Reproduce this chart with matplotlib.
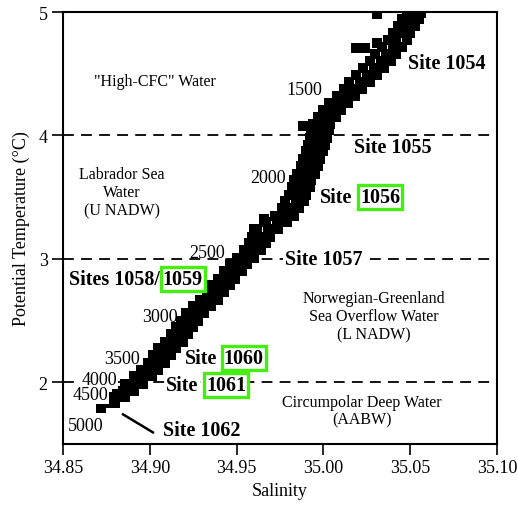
import matplotlib
matplotlib.use("Agg")
import matplotlib.pyplot as plt

plt.rcParams["font.family"] = ["Liberation Serif", "DejaVu Serif"]

# ---------- CTD profile: potential temperature vs salinity ----------
theta = [
    4.99, 4.99, 4.99,
    4.94, 4.94, 4.94,
    4.89, 4.89, 4.89,
    4.83, 4.83, 4.83,
    4.77, 4.77, 4.77,
    4.72, 4.72, 4.72,
    4.66, 4.66, 4.66,
    4.60, 4.60, 4.60,
    4.55, 4.55, 4.55,
    4.49, 4.49, 4.49,
    4.43, 4.43, 4.43,
    4.38, 4.38, 4.38,
    4.32, 4.32, 4.32,
    4.26, 4.26, 4.26,
    4.21, 4.21, 4.21,
    4.15, 4.15, 4.15,
    4.09, 4.09, 4.09,
    4.04, 4.04, 4.04,
    3.98, 3.98, 3.98,
    3.92, 3.92, 3.92,
    3.87, 3.87, 3.87,
    3.81, 3.81, 3.81,
    3.75, 3.75, 3.75,
    3.69, 3.69, 3.69,
    3.64, 3.64, 3.64,
    3.58, 3.58, 3.58,
    3.52, 3.52, 3.52,
    3.47, 3.47, 3.47,
    3.41, 3.41, 3.41,
    3.35, 3.35, 3.35,
    3.30, 3.30, 3.30,
    3.24, 3.24, 3.24,
    3.18, 3.18, 3.18,
    3.13, 3.13, 3.13,
    3.07, 3.07, 3.07,
    3.01, 3.01, 3.01,
    2.96, 2.96, 2.96,
    2.90, 2.90, 2.90,
    2.84, 2.84, 2.84,
    2.79, 2.79, 2.79,
    2.73, 2.73, 2.73,
    2.67, 2.67, 2.67,
    2.62, 2.62, 2.62,
    2.56, 2.56, 2.56,
    2.50, 2.50, 2.50,
    2.45, 2.45, 2.45,
    2.39, 2.39, 2.39,
    2.33, 2.33, 2.33,
    2.28, 2.28, 2.28,
    2.22, 2.22, 2.22,
    2.16, 2.16, 2.16,
    2.10, 2.10, 2.10,
    2.05, 2.05, 2.05,
    1.99, 1.99, 1.99,
    1.93, 1.93, 1.93,
    1.88, 1.88, 1.88,
    1.83, 1.83, 1.83,
    1.79,
    # scattered readings off the main trend
    4.98, 4.71, 4.71, 4.75, 4.08, 3.24, 3.32,
]

salinity = [
    35.048, 35.052, 35.056,
    35.045, 35.050, 35.055,
    35.043, 35.048, 35.053,
    35.040, 35.045, 35.050,
    35.037, 35.042, 35.048,
    35.034, 35.040, 35.045,
    35.030, 35.036, 35.042,
    35.027, 35.033, 35.039,
    35.023, 35.029, 35.035,
    35.019, 35.025, 35.031,
    35.015, 35.021, 35.027,
    35.012, 35.017, 35.022,
    35.008, 35.013, 35.018,
    35.003, 35.009, 35.014,
    35.000, 35.005, 35.010,
    34.997, 35.002, 35.007,
    34.994, 34.999, 35.004,
    34.993, 34.998, 35.003,
    34.992, 34.997, 35.002,
    34.991, 34.996, 35.001,
    34.990, 34.995, 35.000,
    34.988, 34.993, 34.998,
    34.987, 34.992, 34.997,
    34.985, 34.990, 34.995,
    34.983, 34.988, 34.993,
    34.982, 34.987, 34.992,
    34.980, 34.985, 34.990,
    34.978, 34.984, 34.989,
    34.976, 34.981, 34.986,
    34.972, 34.978, 34.983,
    34.967, 34.973, 34.979,
    34.962, 34.968, 34.974,
    34.959, 34.964, 34.969,
    34.957, 34.962, 34.967,
    34.954, 34.959, 34.964,
    34.950, 34.955, 34.960,
    34.946, 34.951, 34.956,
    34.943, 34.948, 34.953,
    34.939, 34.944, 34.949,
    34.936, 34.941, 34.946,
    34.933, 34.938, 34.943,
    34.929, 34.934, 34.939,
    34.925, 34.930, 34.935,
    34.921, 34.926, 34.931,
    34.918, 34.923, 34.928,
    34.915, 34.920, 34.925,
    34.912, 34.917, 34.922,
    34.909, 34.914, 34.919,
    34.905, 34.910, 34.915,
    34.902, 34.907, 34.912,
    34.899, 34.904, 34.909,
    34.895, 34.900, 34.905,
    34.891, 34.896, 34.901,
    34.886, 34.891, 34.896,
    34.881, 34.886, 34.891,
    34.877, 34.881, 34.886,
    34.873, 34.876, 34.880,
    34.872,
    35.031, 35.019, 35.024, 35.031, 34.988, 34.960, 34.966,
]

# water-mass boundaries (deg C)
boundaries = [4.0, 3.0, 2.0]

# depth markers along the profile (m)
depth_labels = ["1500", "2000", "2500", "3000", "3500", "4000", "4500", "5000"]
depth_sal = [34.989, 34.968, 34.933, 34.906, 34.884, 34.871, 34.866, 34.863]
depth_theta = [4.37, 3.66, 3.05, 2.53, 2.19, 2.02, 1.90, 1.65]

water_masses = [
    '"High-CFC" Water',
    "Labrador Sea\nWater\n(U NADW)",
    "Norwegian-Greenland\nSea Overflow Water\n(L NADW)",
    "Circumpolar Deep Water\n(AABW)",
]
water_sal = [34.903, 34.884, 35.029, 35.022]
water_theta = [4.44, 3.54, 2.535, 1.77]

GREEN = "#44ee11"

fig = plt.figure(figsize=(5.18, 5.06), dpi=100)
ax = fig.add_axes([63 / 518, 1 - 445 / 506, 434 / 518, 432 / 506])

for b in boundaries:
    ax.axhline(b, color="black", lw=1.3, dashes=(6, 4), zorder=1)

ax.scatter(salinity, theta, marker="s", s=62, color="black", linewidths=0, zorder=2)

# depth labels
for lab, s, t in zip(depth_labels, depth_sal, depth_theta):
    bg = dict(facecolor="white", edgecolor="none", pad=0.5) if lab in ("4000", "4500") else None
    ax.text(s, t, lab, fontsize=13, ha="center", va="center", zorder=3, bbox=bg)

# water-mass names
for lab, s, t in zip(water_masses, water_sal, water_theta):
    ax.text(s, t, lab, fontsize=11.5, ha="center", va="center", linespacing=1.15, zorder=3)

# site labels
bold = dict(fontsize=14.5, fontweight="bold", zorder=4)
white = dict(facecolor="white", edgecolor="none", pad=1)
boxed = dict(facecolor="white", edgecolor=GREEN, linewidth=2.4, pad=1.5)

ax.text(35.071, 4.59, "Site 1054", ha="center", va="center", **bold)
ax.text(35.040, 3.905, "Site 1055", ha="center", va="center", **bold)
ax.text(35.000, 3.00, "Site 1057", ha="center", va="center", bbox=white, **bold)

ax.text(35.0165, 3.50, "Site", ha="right", va="center", **bold)
ax.text(35.0326, 3.50, "1056", ha="center", va="center", bbox=boxed, **bold)

ax.text(34.906, 2.835, "Sites 1058/", ha="right", va="center", **bold)
ax.text(34.919, 2.835, "1059", ha="center", va="center", bbox=boxed, **bold)

ax.text(34.939, 2.198, "Site", ha="right", va="center", **bold)
ax.text(34.954, 2.198, "1060", ha="center", va="center", bbox=boxed, **bold)

ax.text(34.928, 1.979, "Site", ha="right", va="center", bbox=white, **bold)
ax.text(34.944, 1.979, "1061", ha="center", va="center", bbox=boxed, **bold)

ax.text(34.930, 1.61, "Site 1062", ha="center", va="center", **bold)
ax.plot([34.8846, 34.9018], [1.740, 1.594], color="black", lw=1.8, zorder=3)

ax.set_xlim(34.85, 35.10)
ax.set_ylim(1.5, 5.0)
ax.set_xticks([34.85, 34.90, 34.95, 35.00, 35.05, 35.10])
ax.set_xticklabels(["34.85", "34.90", "34.95", "35.00", "35.05", "35.10"])
ax.set_yticks([2, 3, 4, 5])
ax.tick_params(axis="both", direction="out", length=8, width=1.2, labelsize=13, pad=3)
for sp in ax.spines.values():
    sp.set_linewidth(1.5)

ax.set_xlabel("Salinity", fontsize=13, labelpad=4)
ax.set_ylabel("Potential Temperature (\u00b0C)", fontsize=13, labelpad=6)

fig.savefig("out.png", dpi=100)
